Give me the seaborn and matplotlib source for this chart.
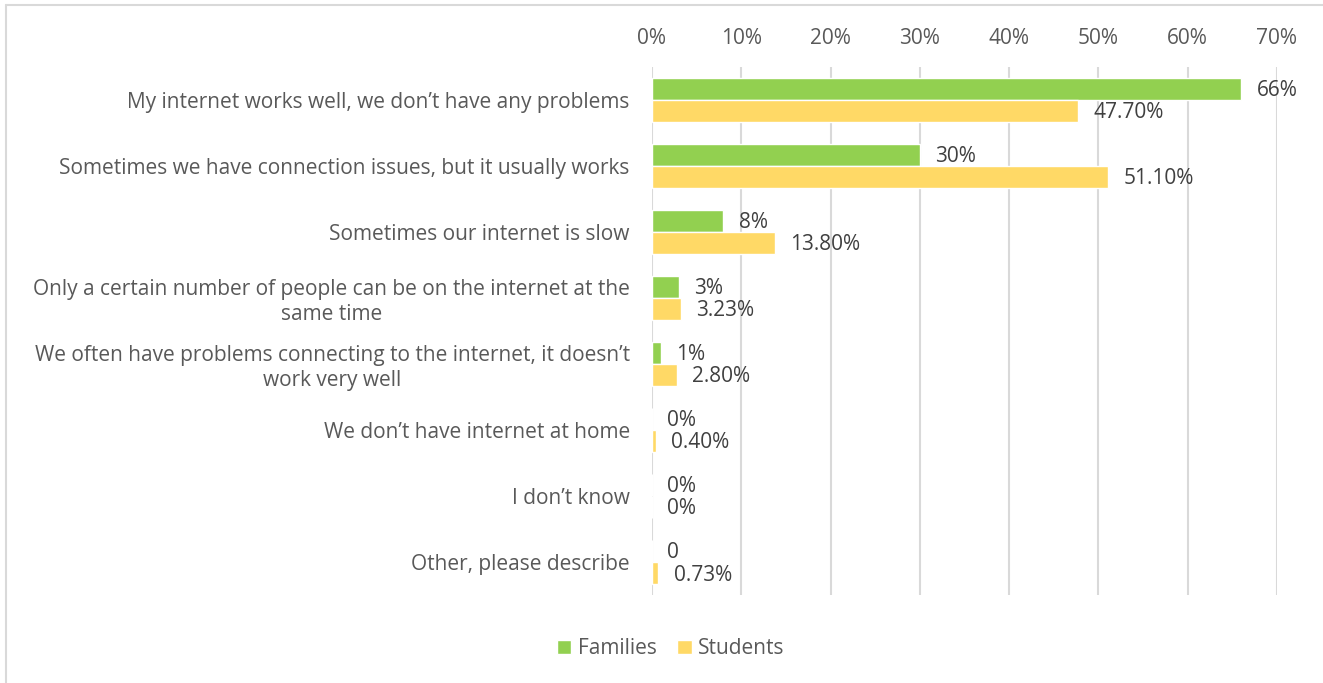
import matplotlib
matplotlib.use("Agg")
import matplotlib.pyplot as plt
from matplotlib.lines import Line2D
from matplotlib.patches import Patch
import seaborn as sns
import pandas as pd

categories = [
    "My internet works well, we don\u2019t have any problems",
    "Sometimes we have connection issues, but it usually works",
    "Sometimes our internet is slow",
    "Only a certain number of people can be on the internet at the\nsame time",
    "We often have problems connecting to the internet, it doesn\u2019t\nwork very well",
    "We don\u2019t have internet at home",
    "I don\u2019t know",
    "Other, please describe",
]
families = [66, 30, 8, 3, 1, 0, 0, 0]
students = [47.7, 51.1, 13.8, 3.23, 2.8, 0.4, 0, 0.73]
families_labels = ["66%", "30%", "8%", "3%", "1%", "0%", "0%", "0"]
students_labels = ["47.70%", "51.10%", "13.80%", "3.23%", "2.80%", "0.40%", "0%", "0.73%"]
series = ["Families", "Students"]
x_ticks = [0, 10, 20, 30, 40, 50, 60, 70]

GREEN = "#92D050"
YELLOW = "#FFD966"
GRID = "#D9D9D9"
TEXT = "#595959"
LABEL = "#404040"
FS = 15

sns.set_style("white")
plt.rcParams["font.family"] = ["Open Sans", "DejaVu Sans"]

df = pd.DataFrame({
    "category": categories * 2,
    "value": families + students,
    "series": [series[0]] * len(categories) + [series[1]] * len(categories),
})

fig = plt.figure(figsize=(13.23, 6.83), dpi=100)
ax = fig.add_axes([0.4928, 0.1288, 0.4724, 0.7732])

sns.barplot(
    data=df, y="category", x="value", hue="series", orient="h",
    palette=[GREEN, YELLOW], width=0.667, saturation=1, ax=ax,
    legend=False, order=categories, hue_order=series,
)

ax.set_xlim(0, 70)
ax.set_xticks(x_ticks)
ax.set_xticklabels([f"{t}%" for t in x_ticks])
ax.xaxis.tick_top()
ax.tick_params(axis="x", length=0, pad=13, labelsize=FS, colors=TEXT)
ax.tick_params(axis="y", length=0, pad=16, labelsize=FS, colors=TEXT)
for lbl in ax.get_yticklabels():
    lbl.set_multialignment("center")
ax.set_xlabel("")
ax.set_ylabel("")
ax.grid(axis="x", color=GRID, linewidth=1.5)
ax.set_axisbelow(True)
for s in ax.spines.values():
    s.set_visible(False)

# value labels placed just past the end of each bar
for container, texts in zip(ax.containers, [families_labels, students_labels]):
    for bar, txt in zip(container, texts):
        x = bar.get_width()
        y = bar.get_y() + bar.get_height() / 2 + 0.03
        ax.annotate(txt, (x, y), xytext=(11, 0), textcoords="offset points",
                    ha="left", va="center", fontsize=FS, color=LABEL)

handles = [Patch(facecolor=GREEN, label=series[0]), Patch(facecolor=YELLOW, label=series[1])]
fig.legend(handles=handles, loc="center", bbox_to_anchor=(0.507, 0.050), ncol=2,
           frameon=False, fontsize=FS, labelcolor=TEXT, handlelength=0.7,
           handleheight=0.7, handletextpad=0.3, columnspacing=1.0)

# chart area border (top and left edges)
fig.add_artist(Line2D([0.0045, 1.0], [0.9925, 0.9925], color=GRID, linewidth=1.5,
                      transform=fig.transFigure))
fig.add_artist(Line2D([0.0045, 0.0045], [0.0, 0.9925], color=GRID, linewidth=1.5,
                      transform=fig.transFigure))

fig.savefig("out.png", dpi=100, facecolor="white")
